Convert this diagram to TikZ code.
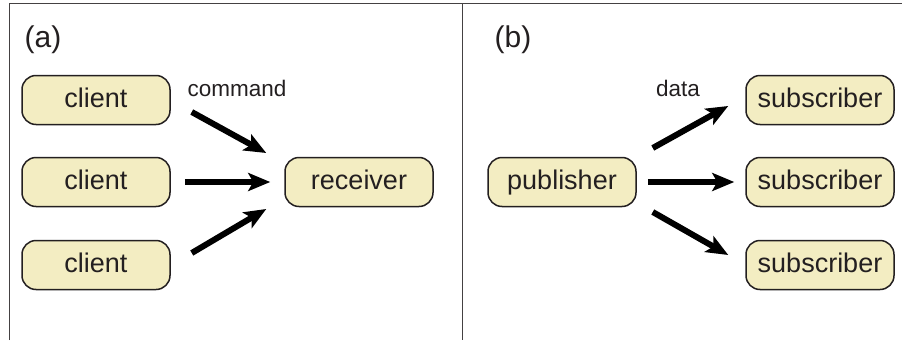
\documentclass[tikz,border=0pt]{standalone}
\usepackage{fontspec}
\setmainfont{Liberation Sans}
\usetikzlibrary{arrows.meta}
\definecolor{boxfill}{RGB}{243,237,194}
\definecolor{ink}{RGB}{35,31,32}

\begin{document}
\begin{tikzpicture}[x=1pt, y=-1pt,
	box/.style={draw=ink, line width=1.5pt, fill=boxfill, rounded corners=14pt, minimum width=148pt, minimum height=49pt, inner sep=0pt, text height=19pt, text depth=5pt, font=\fontsize{27}{30}\selectfont, text=ink},
	tag/.style={font=\fontsize{30}{34}\selectfont, text=ink},
	lbl/.style={font=\fontsize{22.5}{26}\selectfont, text=ink},
	arr/.style={line width=6pt, -{Stealth[length=22pt, width=18pt, inset=5pt]}}]
	\useasboundingbox (0,0) rectangle (902,340);
	\draw[ink!85, line width=1pt] (9,340) -- (9,3) -- (902,3);
	\draw[ink!85, line width=1pt] (462,3) -- (462,340);
	% (a)
	\node[tag] (taga) at (43,40) {(a)};
	\node[box] (c1) at (96,100) {client};
	\node[box] (c2) at (96,182) {client};
	\node[box] (c3) at (96,265) {client};
	\node[box] (rcv) at (359,182) {receiver};
	\node[lbl] (cmd) at (237,88) {command};
	\draw[arr] ([xshift=21pt, yshift=-12pt]c1.east) -- ([xshift=-18pt, yshift=29pt]rcv.west);
	\draw[arr, shorten <=14pt, shorten >=14pt] (c2) -- (rcv);
	\draw[arr] ([xshift=21pt, yshift=12pt]c3.east) -- ([xshift=-18pt, yshift=-27pt]rcv.west);
	% (b)
	\node[tag] (tagb) at (513,40) {(b)};
	\node[box] (pub) at (562,182) {publisher};
	\node[box] (s1) at (820,100) {subscriber};
	\node[box] (s2) at (820,182) {subscriber};
	\node[box] (s3) at (820,265) {subscriber};
	\node[lbl] (dat) at (678,88) {data};
	\draw[arr] ([xshift=16pt, yshift=34pt]pub.east) -- ([xshift=-17pt, yshift=-6pt]s1.west);
	\draw[arr, shorten <=11pt, shorten >=11pt] (pub) -- (s2);
	\draw[arr] ([xshift=16pt, yshift=-30pt]pub.east) -- ([xshift=-17pt, yshift=10pt]s3.west);
\end{tikzpicture}
\end{document}
